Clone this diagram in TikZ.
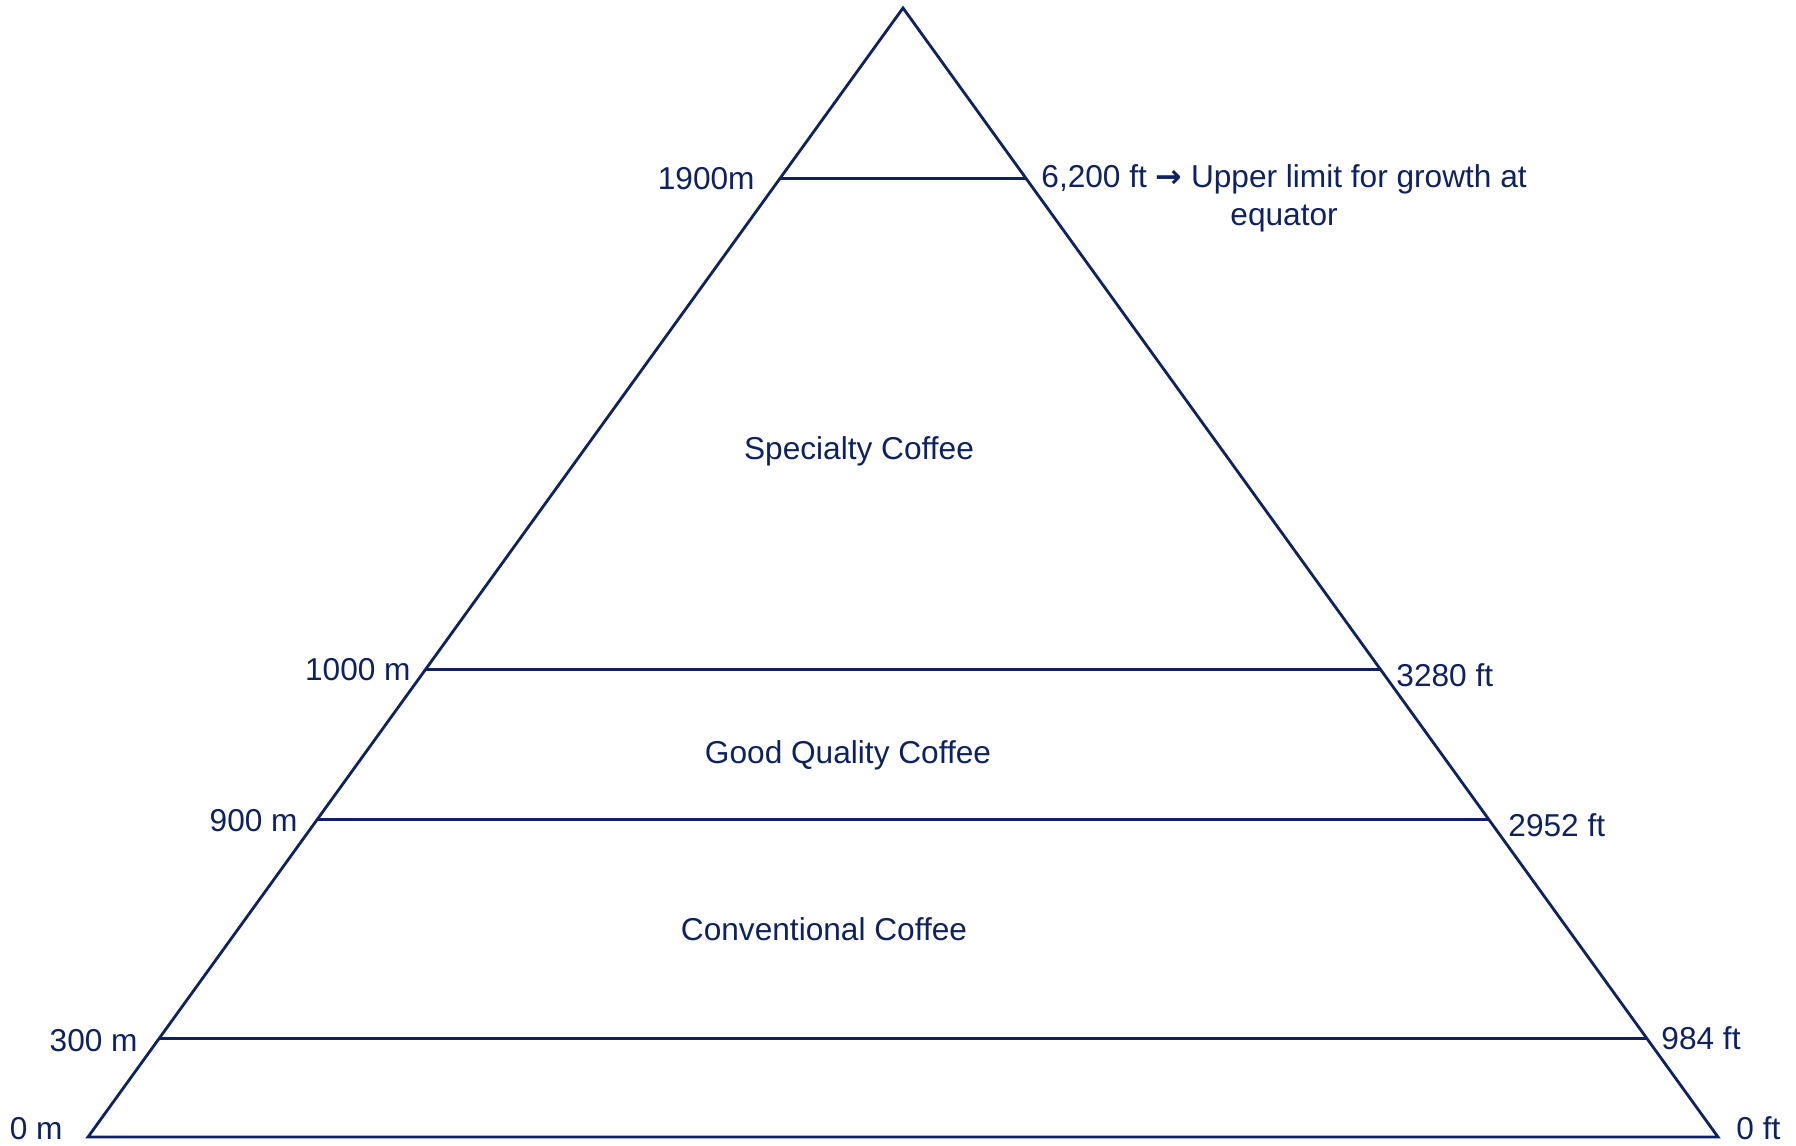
\documentclass[tikz,border=0pt]{standalone}
\usepackage{fontspec}
\setmainfont{Liberation Sans}
\newfontfamily\arrowfont{DejaVu Sans}
\usepackage{tikz}
\usetikzlibrary{positioning}
\usetikzlibrary{calc}
\definecolor{navy}{RGB}{14,34,98}

\begin{document}
\begin{tikzpicture}[
    line width=0.8pt,
    every node/.style={text=navy, font=\fontsize{9}{10.8}\selectfont, inner sep=0pt},
    band/.style={draw=navy},
    lab/.style={anchor=east},
    labr/.style={anchor=west}
  ]

%---------------------------------------
% Altitude levels (fraction down the sides)
%---------------------------------------
\def\fTop{0.151}  % 1900 m
\def\fSpc{0.586}  % 1000 m
\def\fGood{0.719} % 900 m
\def\fConv{0.913} % 300 m

\useasboundingbox (0,0) rectangle (17.96,11.45);

% Corners
\coordinate (apex) at (9.03,11.37);
\coordinate (bl) at (0.88,0.08);
\coordinate (br) at (17.18,0.08);

% Outline
\draw[band, line join=miter] (apex) -- (bl) -- (br) -- cycle;

% Points on the sides
\coordinate (l1) at ($(apex)!\fTop!(bl)$);
\coordinate (r1) at ($(apex)!\fTop!(br)$);
\coordinate (l2) at ($(apex)!\fSpc!(bl)$);
\coordinate (r2) at ($(apex)!\fSpc!(br)$);
\coordinate (l3) at ($(apex)!\fGood!(bl)$);
\coordinate (r3) at ($(apex)!\fGood!(br)$);
\coordinate (l4) at ($(apex)!\fConv!(bl)$);
\coordinate (r4) at ($(apex)!\fConv!(br)$);

% Bands
\draw[band] (l1) -- (r1);
\draw[band] (l2) -- (r2);
\draw[band] (l3) -- (r3);
\draw[band] (l4) -- (r4);

%====================================================
% Labels
%====================================================
\node[lab] (m1900) at (7.56,9.66) {1900m};
\node[lab] (m1000) at (4.12,4.75) {1000 m};
\node[lab] (m900) at (2.99,3.24) {900 m};
\node[lab] (m300) at (1.39,1.04) {300 m};
\node[lab] (m0) at (0.64,0.16) {0 m};

\node[labr, align=center] (ft6200) at (10.40,9.47)
  {6,200 ft {\arrowfont\bfseries →} Upper limit for growth at\\equator};
\node[labr] (ft3280) at (13.95,4.70) {3280 ft};
\node[labr] (ft2952) at (15.07,3.20) {2952 ft};
\node[labr] (ft984) at (16.60,1.07) {984 ft};
\node[labr] (ft0) at (17.35,0.17) {0 ft};

% Zones
\node (specialty) at (8.59,6.94) {Specialty Coffee};
\node (good) at (8.48,3.90) {Good Quality Coffee};
\node (conv) at (8.24,2.16) {Conventional Coffee};

\end{tikzpicture}
\end{document}
